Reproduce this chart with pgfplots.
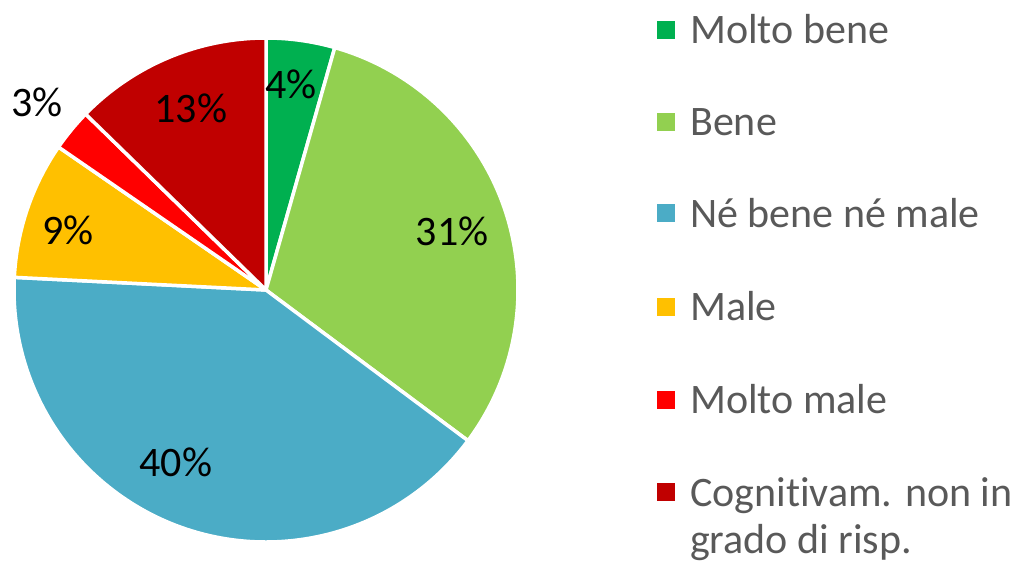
\documentclass[border=0pt]{standalone}
\usepackage{pgfplots}
\pgfplotsset{compat=1.18}
\usepackage{fontspec}
\setmainfont{Carlito}[Ligatures=NoCommon]
\definecolor{cMB}{HTML}{00B050}
\definecolor{cB}{HTML}{92D050}
\definecolor{cN}{HTML}{4BACC6}
\definecolor{cM}{HTML}{FFC000}
\definecolor{cMM}{HTML}{FF0000}
\definecolor{cC}{HTML}{C00000}
\definecolor{legtext}{HTML}{595959}
% #1 start angle, #2 value (percent), #3 colour
\newcommand\slice[3]{\fill[#3, draw=white, line width=3.5pt, line join=round] (axis cs:266,273) -- ++(#1:252pt) arc[start angle=#1, delta angle=-3.6*#2, radius=252pt] -- cycle;}
% #1 baseline y (image px), #2 colour, #3 text
\newcommand\legentry[3]{%
  \fill[#2] (axis cs:657,{563-#1+5}) rectangle (axis cs:675,{563-#1+23});
  \node[anchor=base west, inner sep=0pt, text=legtext, font=\fontsize{42}{50}\selectfont] at (axis cs:690,{563-#1}) {#3};}
\begin{document}
\begin{tikzpicture}
\begin{axis}[scale only axis, width=1017pt, height=563pt,
  xmin=0, xmax=1017, ymin=0, ymax=563, hide axis, clip=false]
% values (percent): 4.4, 30.8, 40.6, 8.8, 2.7, 12.7
\slice{90}{4.4}{cMB}
\slice{74.16}{30.8}{cB}
\slice{-36.72}{40.6}{cN}
\slice{-182.88}{8.8}{cM}
\slice{-214.56}{2.7}{cMM}
\slice{-224.28}{12.7}{cC}
\begin{scope}[every node/.style={font=\fontsize{42}{50}\selectfont, text=black, inner sep=0pt}]
\node at (axis cs:291,479) {4\%};
\node at (axis cs:452,332) {31\%};
\node at (axis cs:176,101) {40\%};
\node at (axis cs:68,333) {9\%};
\node at (axis cs:37,461) {3\%};
\node at (axis cs:191,455) {13\%};
\end{scope}
\legentry{43.8}{cMB}{Molto bene}
\legentry{135.7}{cB}{Bene}
\legentry{227.3}{cN}{Né bene né male}
\legentry{320.6}{cM}{Male}
\legentry{413.6}{cMM}{Molto male}
\legentry{506.3}{cC}{Cognitivam. non in}
\node[anchor=base west, inner sep=0pt, text=legtext, font=\fontsize{42}{50}\selectfont] at (axis cs:690,{563-553}) {grado di risp.};
\end{axis}
\pgfresetboundingbox
\path (0,0) rectangle (1017pt,563pt);
\end{tikzpicture}
\end{document}
